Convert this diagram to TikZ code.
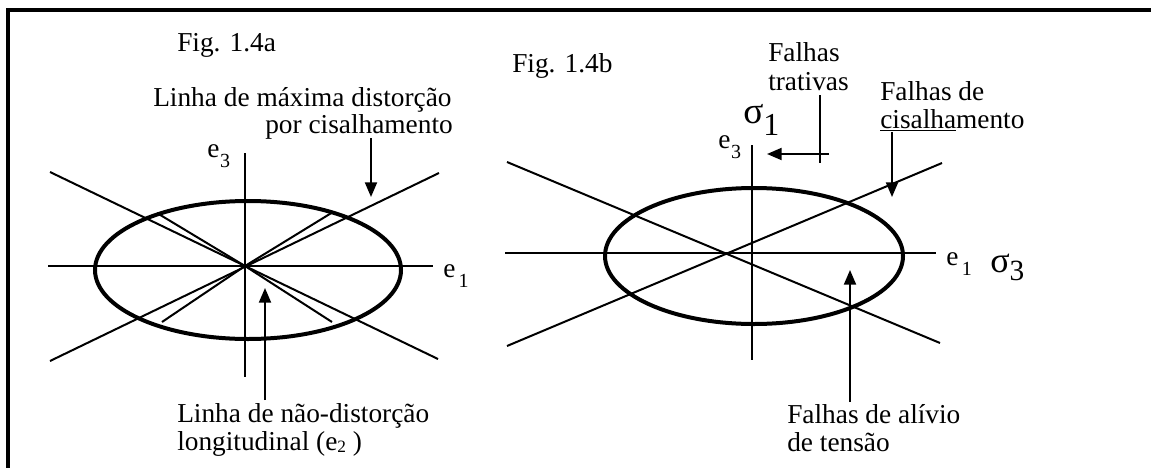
\documentclass[tikz,border=0pt]{standalone}
\usepackage{fontspec}
\setmainfont{Liberation Serif}
\usetikzlibrary{arrows.meta}
\newcommand{\lowsub}[1]{\kern0.5pt\raisebox{-8pt}{\fontsize{15}{15}\selectfont #1}}
\begin{document}
\begin{tikzpicture}[x=0.75pt,y=-0.75pt,
  axisline/.style={line width=1.5pt},
  ell/.style={line width=3pt},
  frameline/.style={line width=3pt},
  lbl/.style={inner sep=0pt, font=\fontsize{20.5}{21}\selectfont, anchor=base west, align=left},
  ptr/.style={line width=1.5pt, -{Triangle[length=11pt,width=9pt]}}]
\useasboundingbox (0,0) rectangle (1151,467);
% frame
\coordinate (f1) at (8,470);
\coordinate (f2) at (8,10);
\coordinate (f3) at (1155,10);
\draw[frameline] (f1) -- (f2) -- (f3);

% ---------- left figure ----------
\coordinate (O1) at (245,266);
\coordinate (h1a) at (48,266);   \coordinate (h1b) at (433,266);
\coordinate (v1a) at (245,153);  \coordinate (v1b) at (245,377);
\coordinate (d1a) at (50,172);   \coordinate (d1b) at (438,359);
\coordinate (d2a) at (50,361);   \coordinate (d2b) at (439,173);
\coordinate (s1) at (157,213);   \coordinate (s2) at (333,212);
\coordinate (s3) at (162,322);   \coordinate (s4) at (332,322);
\draw[axisline] (h1a) -- (h1b);
\draw[axisline] (v1a) -- (v1b);
\draw[axisline] (d1a) -- (d1b);
\draw[axisline] (d2a) -- (d2b);
\draw[axisline] (s1) -- (O1) -- (s4);
\draw[axisline] (s3) -- (O1) -- (s2);
\draw[ell] (248,270) ellipse [x radius=153, y radius=69];

\node[lbl] (figa) at (177,52) {Fig. 1.4a};
\node[lbl] (maxa) at (153,106) {Linha de máxima distorção};
\node[lbl, anchor=base east] (maxb) at (453,133) {por cisalhamento};
\node[lbl] (e3a) at (207,157) {e\lowsub{3}};
\node[lbl] (e1a) at (443,277) {e\kern2pt\lowsub{1}};
\node[lbl] (naod) at (177,450) {Linha de não-distorção\\longitudinal (e\raisebox{-2pt}{\fontsize{13}{13}\selectfont 2} )};
\coordinate (pa1) at (371,138); \coordinate (pa2) at (371,197);
\coordinate (pb1) at (265,400); \coordinate (pb2) at (265,288);
\draw[ptr] (pa1) -- (pa2);
\draw[ptr] (pb1) -- (pb2);

% ---------- right figure ----------
\coordinate (O2) at (752,253);
\coordinate (h2a) at (505,253);  \coordinate (h2b) at (936,253);
\coordinate (v2a) at (752,145);  \coordinate (v2b) at (752,360);
\coordinate (d3a) at (507,162);  \coordinate (d3b) at (940,343);
\coordinate (d4a) at (507,346);  \coordinate (d4b) at (942,163);
\draw[axisline] (h2a) -- (h2b);
\draw[axisline] (v2a) -- (v2b);
\draw[axisline] (d3a) -- (d3b);
\draw[axisline] (d4a) -- (d4b);
\draw[ell] (754,256) ellipse [x radius=149, y radius=68];

\node[lbl] (figb) at (512,73) {Fig. 1.4b};
\node[lbl] (trat) at (768,90) {Falhas\\trativas};
\node[lbl] (cis) at (880,128) {Falhas de\\\underline{cisalha}mento};
\node[lbl] (aliv) at (787,451) {Falhas de alívio\\de tensão};
\node[lbl] (e3b) at (718,148) {e\lowsub{3}};
\node[lbl, font=\fontsize{28}{28}\selectfont] (s1b) at (743,123) {σ\raisebox{-9pt}{\fontsize{24}{24}\selectfont 1}};
\node[lbl] (e1b) at (946,265) {e\kern2pt\lowsub{1}};
\node[lbl, font=\fontsize{27}{27}\selectfont] (s3b) at (990,272) {σ\raisebox{-6pt}{\fontsize{22}{22}\selectfont 3}};

\coordinate (t1) at (820,95);  \coordinate (t2) at (820,163);
\coordinate (t3) at (829,154); \coordinate (t4) at (767,154);
\draw[axisline] (t1) -- (t2);
\draw[ptr] (t3) -- (t4);
\coordinate (c1) at (892,132); \coordinate (c2) at (892,197);
\draw[ptr] (c1) -- (c2);
\coordinate (a1) at (850,402); \coordinate (a2) at (850,270);
\draw[ptr] (a1) -- (a2);
\end{tikzpicture}
\end{document}
